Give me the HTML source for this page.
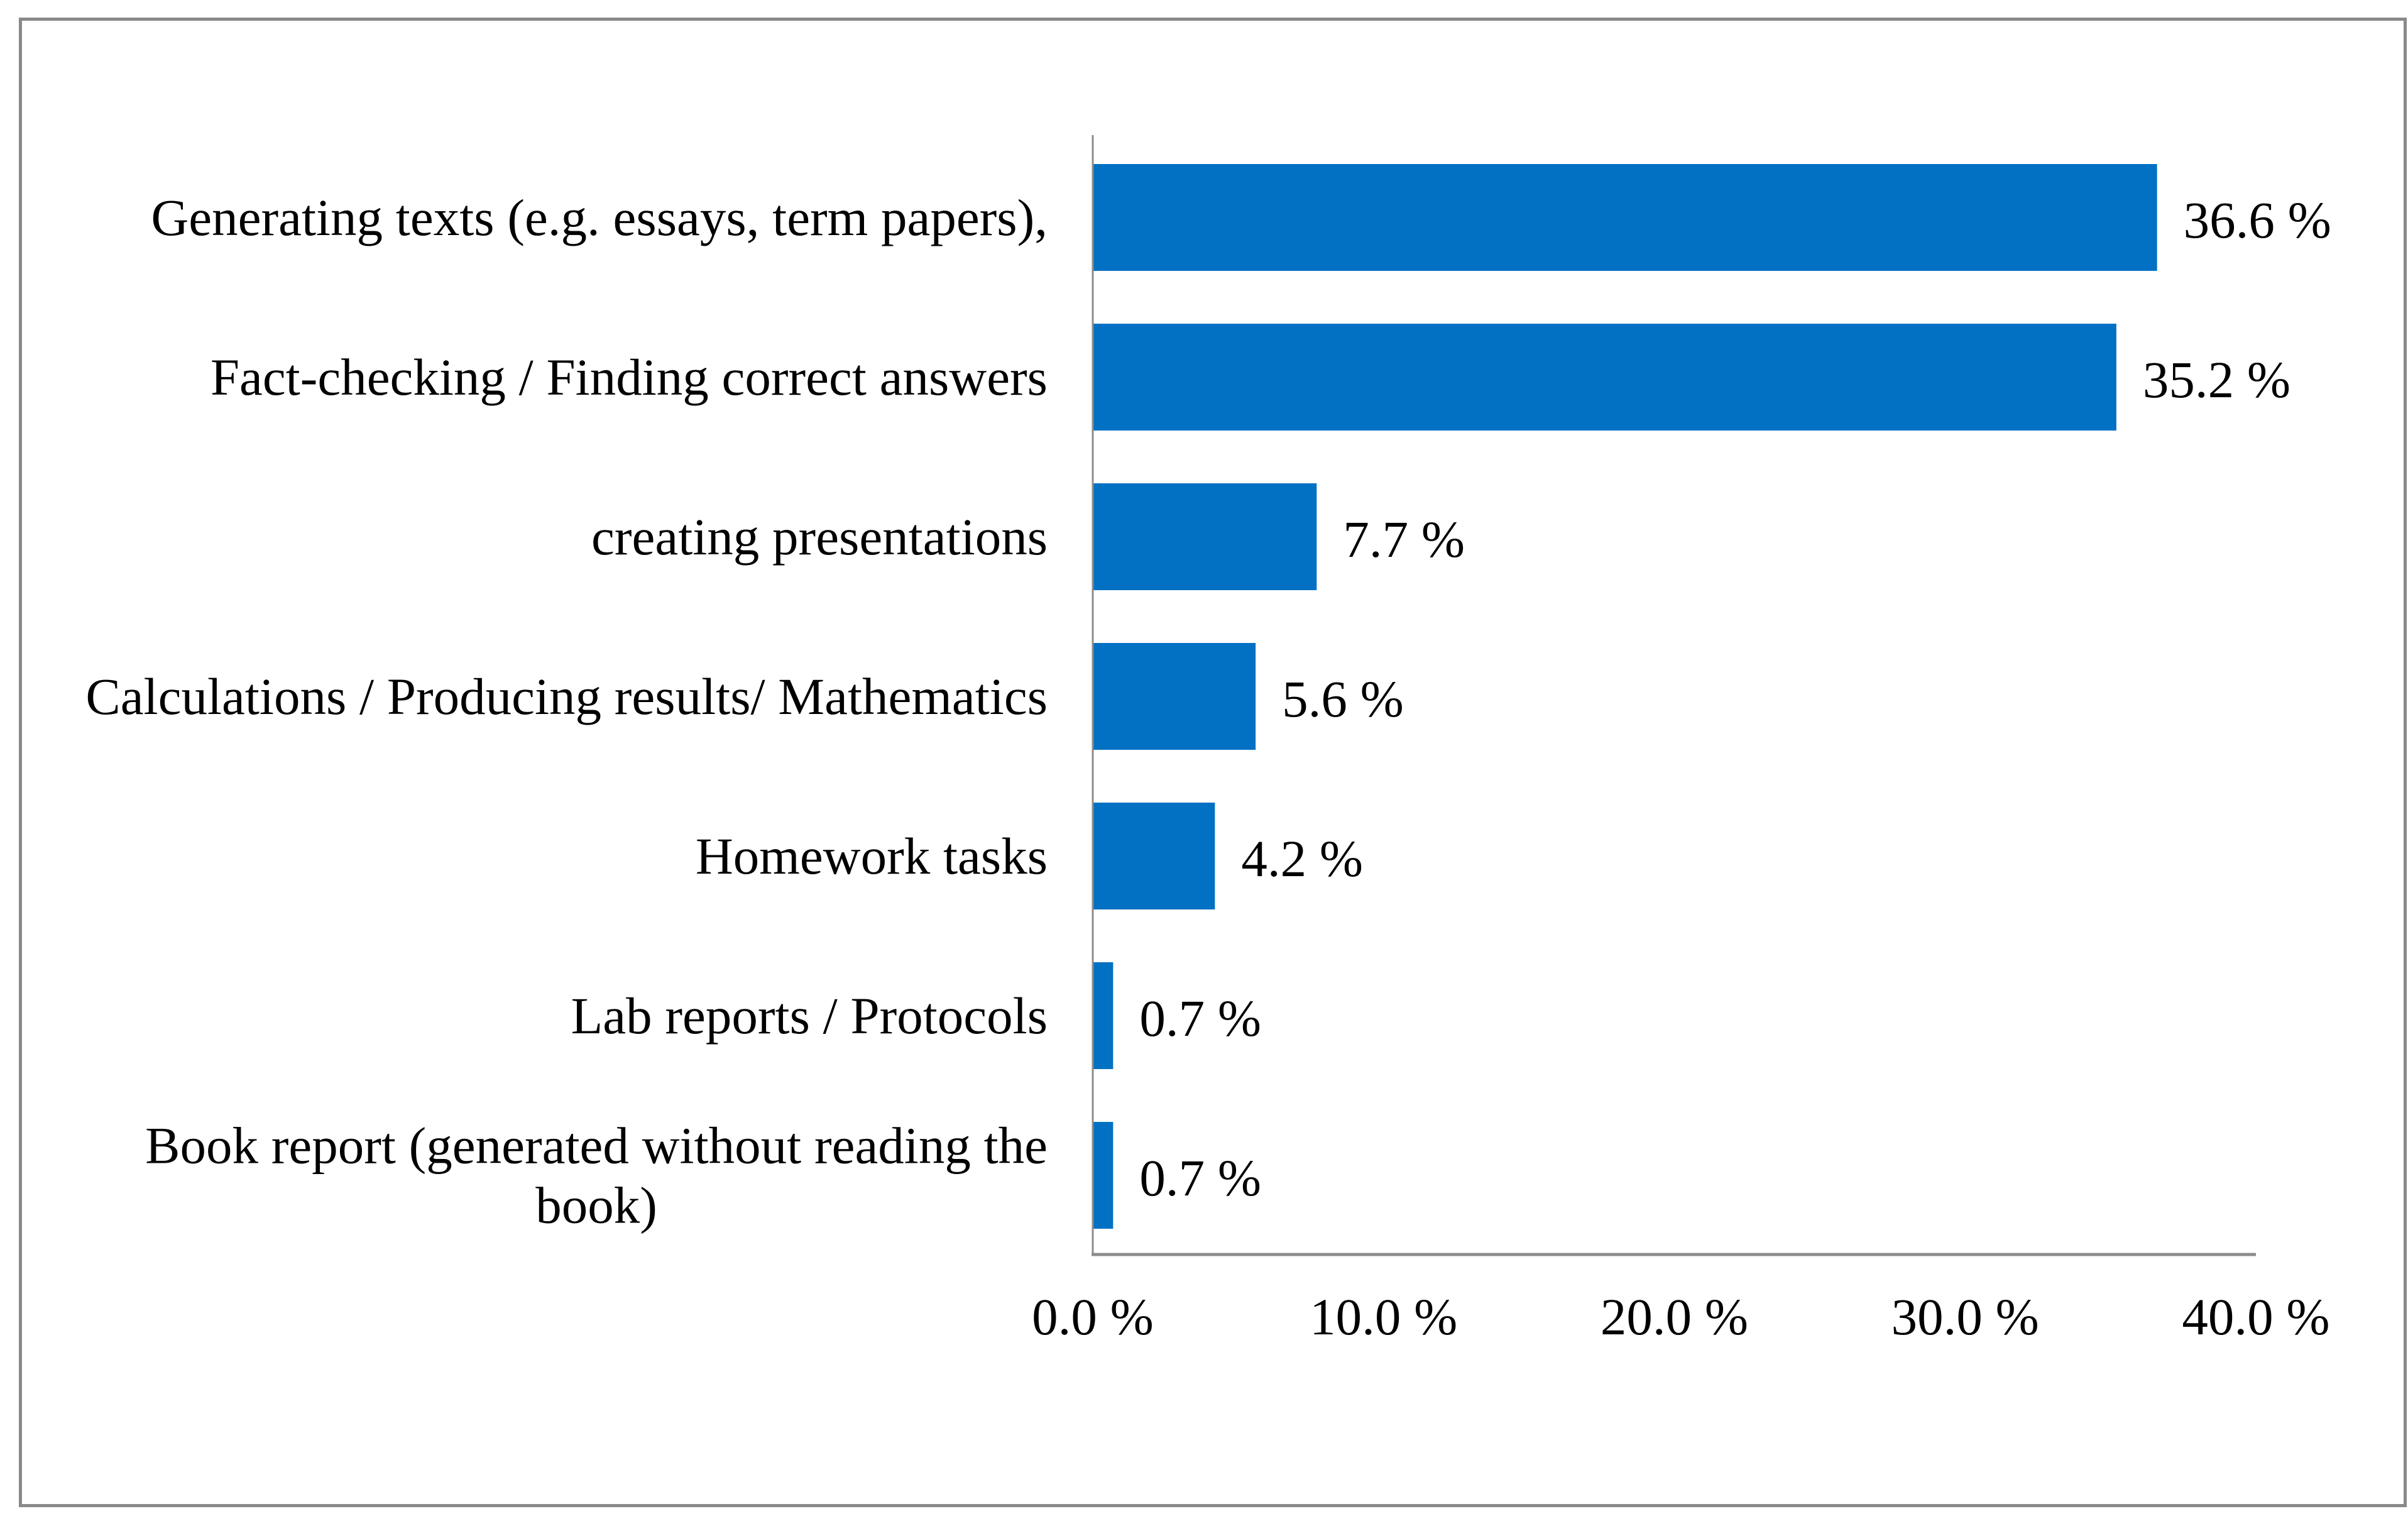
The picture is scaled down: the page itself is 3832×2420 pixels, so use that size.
<!DOCTYPE html>
<html><head><meta charset="utf-8"><style>
html,body{margin:0;padding:0;background:#fff;}
svg{display:block;font-family:"Liberation Serif","Times New Roman",serif;}
</style></head><body>
<svg id="chart" width="3832" height="2420" viewBox="0 0 3832 2420" xmlns="http://www.w3.org/2000/svg">
<rect x="32.5" y="30.5" width="3795" height="2365" fill="#fff" stroke="#898989" stroke-width="5"/>
<g id="bars"></g>
<g id="labels"></g>
<g id="values"></g>
<g id="ticks"></g>
<line x1="1739" y1="215" x2="1739" y2="1998" stroke="#8c8c8c" stroke-width="3"/>
<line x1="1737" y1="1996" x2="3590" y2="1996" stroke="#8c8c8c" stroke-width="5"/>
</svg>
<script>
const categories = [
  ["Generating texts (e.g. essays, term papers),"],
  ["Fact-checking / Finding correct answers"],
  ["creating presentations"],
  ["Calculations / Producing results/ Mathematics"],
  ["Homework tasks"],
  ["Lab reports / Protocols"],
  ["Book report (generated without reading the", "book)"]
];
const values = [36.6, 35.2, 7.7, 5.6, 4.2, 0.7, 0.7];
const valueLabels = ["36.6 %", "35.2 %", "7.7 %", "5.6 %", "4.2 %", "0.7 %", "0.7 %"];
const tickValues = [0, 10, 20, 30, 40];
const tickLabels = ["0.0 %", "10.0 %", "20.0 %", "30.0 %", "40.0 %"];

const NS = "http://www.w3.org/2000/svg";
const x0 = 1739, x1 = 3590, xMax = 40;
const xScale = v => x0 + (v / xMax) * (x1 - x0);
const top0 = 221, pitch = 254, barH = 170;
const yCenter = i => top0 + pitch * i + pitch / 2 - 2;
const FS = 83;

const gb = document.getElementById('bars');
const gl = document.getElementById('labels');
const gv = document.getElementById('values');
const gt = document.getElementById('ticks');

values.forEach((v, i) => {
  const r = document.createElementNS(NS, 'rect');
  r.setAttribute('x', x0 + 1);
  r.setAttribute('y', yCenter(i) - barH / 2);
  r.setAttribute('width', Math.max(0, xScale(v) - x0 - 1));
  r.setAttribute('height', barH);
  r.setAttribute('fill', '#0271c4');
  
  
  gb.appendChild(r);

  const t = document.createElementNS(NS, 'text');
  t.setAttribute('x', xScale(v) + 42);
  t.setAttribute('y', yCenter(i) + 32);
  t.setAttribute('font-size', FS);
  t.setAttribute('fill', '#000');
  t.textContent = valueLabels[i];
  
  
  gv.appendChild(t);

  const lines = categories[i];
  const lineGap = 95;
  if (lines.length === 1) {
    const c = document.createElementNS(NS, 'text');
    c.setAttribute('x', 1667);
    c.setAttribute('y', yCenter(i) + 28);
    c.setAttribute('font-size', FS);
    c.setAttribute('text-anchor', 'end');
    c.textContent = lines[0];
    
    
    gl.appendChild(c);
  } else {
    const c = document.createElementNS(NS, 'text');
    c.setAttribute('font-size', FS);
    
    
    gl.appendChild(c);
    const first = document.createElementNS(NS, 'tspan');
    first.setAttribute('x', 1667);
    first.setAttribute('text-anchor', 'end');
    first.setAttribute('y', yCenter(i) + 28 - lineGap / 2);
    first.textContent = lines[0];
    c.appendChild(first);
    const w = first.getComputedTextLength();
    const cx = 1667 - w / 2;
    for (let k = 1; k < lines.length; k++) {
      const s = document.createElementNS(NS, 'tspan');
      s.setAttribute('x', cx);
      s.setAttribute('text-anchor', 'middle');
      s.setAttribute('y', yCenter(i) + 28 - lineGap / 2 + lineGap * k);
      s.textContent = lines[k];
      c.appendChild(s);
    }
  }
});

tickValues.forEach((tv, i) => {
  const t = document.createElementNS(NS, 'text');
  t.setAttribute('x', xScale(tv));
  t.setAttribute('y', 2123);
  t.setAttribute('font-size', FS);
  t.setAttribute('text-anchor', 'middle');
  t.textContent = tickLabels[i];
  
  
  gt.appendChild(t);
});
</script>
</body></html>
